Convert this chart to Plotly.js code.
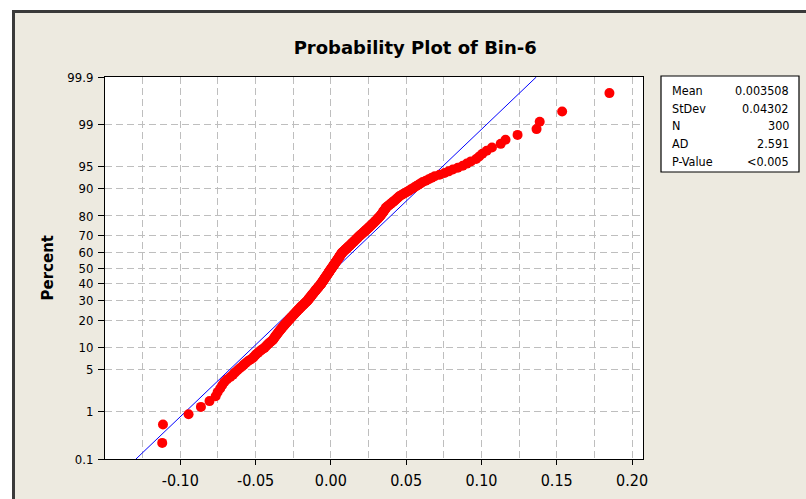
<!DOCTYPE html>
<html><head><meta charset="utf-8">
<script src="https://cdn.plot.ly/plotly-3.0.1.min.js"></script>
<style>
html,body{margin:0;padding:0;background:#ffffff;}
#frame{position:absolute;left:12px;top:10px;width:791px;height:486px;border-left:3px solid #3a3a3a;border-top:3px solid #3a3a3a;background:#EDEAE0;}
#chart{width:791px;height:486px;}
</style></head>
<body><div id="frame"><div id="chart"></div></div>
<script>
// Sorted Bin-6 values (N = 300)
const binValues = [
-0.1120,-0.1115,-0.0945,-0.0863,-0.0806,-0.0765,-0.0752,-0.0735,-0.0722,-0.0708,
-0.0690,-0.0668,-0.0650,-0.0636,-0.0620,-0.0605,-0.0590,-0.0578,-0.0565,-0.0551,
-0.0536,-0.0520,-0.0511,-0.0502,-0.0494,-0.0483,-0.0472,-0.0462,-0.0450,-0.0440,
-0.0432,-0.0425,-0.0418,-0.0410,-0.0401,-0.0393,-0.0385,-0.0381,-0.0376,-0.0372,
-0.0367,-0.0362,-0.0358,-0.0353,-0.0349,-0.0344,-0.0340,-0.0335,-0.0330,-0.0326,
-0.0321,-0.0317,-0.0312,-0.0308,-0.0303,-0.0298,-0.0294,-0.0289,-0.0285,-0.0280,
-0.0276,-0.0272,-0.0268,-0.0263,-0.0259,-0.0255,-0.0251,-0.0247,-0.0242,-0.0238,
-0.0234,-0.0230,-0.0226,-0.0222,-0.0218,-0.0213,-0.0209,-0.0205,-0.0201,-0.0197,
-0.0193,-0.0188,-0.0184,-0.0180,-0.0176,-0.0172,-0.0168,-0.0163,-0.0159,-0.0155,
-0.0152,-0.0149,-0.0146,-0.0143,-0.0140,-0.0137,-0.0134,-0.0131,-0.0128,-0.0125,
-0.0122,-0.0119,-0.0116,-0.0113,-0.0110,-0.0107,-0.0104,-0.0101,-0.0098,-0.0095,
-0.0092,-0.0089,-0.0086,-0.0083,-0.0080,-0.0077,-0.0074,-0.0071,-0.0068,-0.0065,
-0.0063,-0.0060,-0.0058,-0.0056,-0.0053,-0.0051,-0.0049,-0.0046,-0.0044,-0.0042,
-0.0039,-0.0037,-0.0035,-0.0032,-0.0030,-0.0028,-0.0025,-0.0023,-0.0021,-0.0018,
-0.0016,-0.0014,-0.0011,-0.0009,-0.0007,-0.0004,-0.0002,0.0000,0.0003,0.0005,
0.0007,0.0010,0.0012,0.0014,0.0017,0.0019,0.0021,0.0024,0.0026,0.0028,
0.0031,0.0033,0.0035,0.0038,0.0040,0.0042,0.0045,0.0047,0.0049,0.0052,
0.0054,0.0056,0.0059,0.0061,0.0063,0.0066,0.0068,0.0070,0.0073,0.0075,
0.0079,0.0083,0.0087,0.0090,0.0094,0.0098,0.0102,0.0106,0.0110,0.0113,
0.0117,0.0121,0.0125,0.0129,0.0133,0.0136,0.0140,0.0144,0.0148,0.0152,
0.0156,0.0159,0.0163,0.0167,0.0171,0.0175,0.0179,0.0182,0.0186,0.0190,
0.0195,0.0199,0.0204,0.0208,0.0213,0.0217,0.0222,0.0226,0.0231,0.0235,
0.0240,0.0244,0.0249,0.0253,0.0258,0.0262,0.0267,0.0271,0.0276,0.0280,
0.0285,0.0289,0.0294,0.0298,0.0303,0.0307,0.0312,0.0316,0.0321,0.0325,
0.0329,0.0333,0.0336,0.0340,0.0344,0.0348,0.0351,0.0355,0.0359,0.0363,
0.0366,0.0370,0.0377,0.0385,0.0392,0.0399,0.0406,0.0414,0.0421,0.0428,
0.0435,0.0443,0.0450,0.0457,0.0469,0.0481,0.0493,0.0506,0.0518,0.0530,
0.0543,0.0555,0.0568,0.0582,0.0596,0.0610,0.0630,0.0650,0.0670,0.0690,
0.0722,0.0755,0.0782,0.0810,0.0843,0.0876,0.0903,0.0930,0.0965,0.0985,
0.1006,0.1035,0.1070,0.1128,0.1160,0.1240,0.1366,0.1387,0.1536,0.1850
];
const fitMean = 0.003508;
const fitStDev = 0.04302;
const percentTicks = [0.1, 1, 5, 10, 20, 30, 40, 50, 60, 70, 80, 90, 95, 99, 99.9];
const percentLabels = ['0.1','1','5','10','20','30','40','50','60','70','80','90','95','99','99.9'];
const xTickVals = [-0.10, -0.05, 0.00, 0.05, 0.10, 0.15, 0.20];
const xTickLabels = ['-0.10','-0.05','0.00','0.05','0.10','0.15','0.20'];
const statLabels = ['Mean','StDev','N','AD','P-Value'];
const statValues = ['0.003508','0.04302','300','2.591','<0.005'];

function normInv(p){
  const a=[-3.969683028665376e+01,2.209460984245205e+02,-2.759285104469687e+02,1.383577518672690e+02,-3.066479806614716e+01,2.506628277459239e+00];
  const b=[-5.447609879822406e+01,1.615858368580409e+02,-1.556989798598866e+02,6.680131188771972e+01,-1.328068155288572e+01];
  const c=[-7.784894002430293e-03,-3.223964580411365e-01,-2.400758277161838e+00,-2.549732539343734e+00,4.374664141464968e+00,2.938163982698783e+00];
  const d=[7.784695709041462e-03,3.224671290700398e-01,2.445134137142996e+00,3.754408661907416e+00];
  const pl=0.02425, ph=1-pl; let q,r;
  if(p<pl){q=Math.sqrt(-2*Math.log(p));return (((((c[0]*q+c[1])*q+c[2])*q+c[3])*q+c[4])*q+c[5])/((((d[0]*q+d[1])*q+d[2])*q+d[3])*q+1);}
  if(p<=ph){q=p-0.5;r=q*q;return (((((a[0]*r+a[1])*r+a[2])*r+a[3])*r+a[4])*r+a[5])*q/(((((b[0]*r+b[1])*r+b[2])*r+b[3])*r+b[4])*r+1);}
  q=Math.sqrt(-2*Math.log(1-p));return -(((((c[0]*q+c[1])*q+c[2])*q+c[3])*q+c[4])*q+c[5])/((((d[0]*q+d[1])*q+d[2])*q+d[3])*q+1);
}

const xs = binValues.slice().sort((u,v)=>u-v);
const n = xs.length;
// Median-rank plotting positions (Benard), mapped to the normal-probability scale
const ys = xs.map((_,i)=> normInv((i+1-0.3)/(n+0.4)));
const zLo = normInv(0.001), zHi = normInv(0.999);

// page-pixel helpers (plot area: x 105..643, y 77..459)
const PL=105, PR=643, PT=77, PB=459;
const px = v => (v-PL)/(PR-PL);
const py = v => (PB-v)/(PB-PT);

const traces = [
  {x:[fitMean+zLo*fitStDev, fitMean+zHi*fitStDev], y:[zLo, zHi], mode:'lines',
   line:{color:'#0000FF', width:1}, hoverinfo:'skip', showlegend:false},
  {x:xs, y:ys, mode:'markers', type:'scatter',
   marker:{color:'#FF0000', size:10}, showlegend:false}
];

const gridCol = '#BEBEBE';
const tickFam = '"DejaVu Sans Condensed", "DejaVu Sans", sans-serif';
const annotations = [
  {text:'<b>Percent</b>', xref:'paper', yref:'paper', x:px(47.5), y:0.5, xanchor:'center', yanchor:'middle',
   textangle:-90, showarrow:false, font:{family:'DejaVu Sans', size:15, color:'#000'}}
];
const rowY = [90, 108, 125.5, 143.5, 161];
statLabels.forEach((s,i)=>{
  annotations.push({text:s, xref:'paper', yref:'paper', x:px(670), y:py(rowY[i]), xanchor:'left', yanchor:'middle',
    showarrow:false, font:{family:tickFam, size:12.5, color:'#000'}});
  annotations.push({text:statValues[i], xref:'paper', yref:'paper', x:px(791), y:py(rowY[i]), xanchor:'right', yanchor:'middle',
    showarrow:false, font:{family:tickFam, size:12.5, color:'#000'}});
});

const layout = {
  width:791, height:486,
  margin:{l:90, r:163, t:64, b:40, pad:0},
  paper_bgcolor:'#EDEAE0', plot_bgcolor:'#FFFFFF',
  title:{text:'<b>Probability Plot of Bin-6</b>', x:0.506, xanchor:'center', xref:'container',
         y:0.929, yanchor:'middle', yref:'container',
         font:{family:'DejaVu Sans', size:18, color:'#000'}},
  xaxis:{range:[-0.15, 0.2073], tickmode:'array', tickvals:xTickVals, ticktext:xTickLabels,
         ticks:'outside', ticklen:5, tickcolor:'#000', showline:true, linecolor:'#000', linewidth:1, mirror:true,
         showgrid:true, gridcolor:gridCol, griddash:'7px,4px', gridwidth:1, zeroline:false,
         ticklabelstandoff:2,
         minor:{tick0:0, dtick:0.025, showgrid:true, gridcolor:gridCol, griddash:'7px,4px', gridwidth:1, ticks:''},
         tickfont:{family:tickFam, size:16, color:'#000'}},
  yaxis:{range:[zLo, zHi], tickmode:'array', tickvals:percentTicks.map(p=>normInv(p/100)), ticktext:percentLabels,
         ticks:'outside', ticklen:6, tickcolor:'#000', showline:true, linecolor:'#000', linewidth:1, mirror:true,
         showgrid:true, gridcolor:gridCol, griddash:'7px,4px', gridwidth:1, zeroline:false,
         ticklabelstandoff:2,
         tickfont:{family:tickFam, size:13, color:'#000'}},
  shapes:[
    {type:'rect', xref:'paper', yref:'paper', x0:px(661), x1:px(799), y0:py(172), y1:py(76),
     fillcolor:'#FFFFFF', line:{color:'#000', width:1.2}, layer:'above'}
  ],
  annotations:annotations,
  showlegend:false
};
Plotly.newPlot('chart', traces, layout, {displayModeBar:false, staticPlot:true});
</script>
</body></html>
